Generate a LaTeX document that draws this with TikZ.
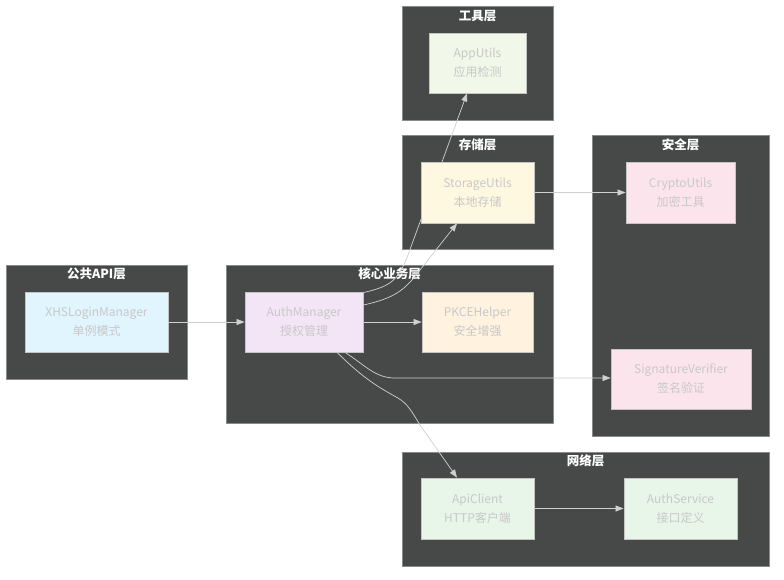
\documentclass[tikz,border=0pt]{standalone}
\usepackage{fontspec}
\setmainfont{Noto Sans CJK SC}
\usetikzlibrary{arrows.meta,calc}
\definecolor{clfill}{HTML}{474948}
\definecolor{cldraw}{HTML}{8A8A8A}
\definecolor{edgec}{HTML}{D0D0D0}
\definecolor{ntext}{HTML}{C8C8C8}
\definecolor{nborder}{HTML}{C4C4C4}
\definecolor{cblue}{HTML}{E1F5FE}
\definecolor{cpurple}{HTML}{F3E5F5}
\definecolor{corange}{HTML}{FFF3E0}
\definecolor{clime}{HTML}{F1F8E9}
\definecolor{cyellow}{HTML}{FFF8E1}
\definecolor{cpink}{HTML}{FCE4EC}
\definecolor{cgreen}{HTML}{E8F5E9}
\pgfdeclarelayer{bg}
\pgfdeclarelayer{edges}
\pgfsetlayers{bg,edges,main}
\tikzset{
  cluster/.style={draw=cldraw,fill=clfill,line width=0.8pt},
  cltitle/.style={text=white,font=\fontsize{12.5}{14}\selectfont\bfseries,inner sep=0pt,anchor=center},
  comp/.style={draw=nborder,line width=0.8pt,text=ntext,font=\fontsize{12}{19}\selectfont,align=center,inner sep=0pt,minimum height=60pt},
  link/.style={draw=edgec,line width=0.7pt,-{Triangle[length=8pt,width=6pt]}}
}
\begin{document}
\begin{tikzpicture}[x=1pt,y=-1pt]
\useasboundingbox (0,0) rectangle (784,579);
% nodes
\node[comp,fill=cblue,minimum width=143pt] (xhs) at (96.5,322) {XHSLoginManager\\单例模式};
\node[comp,fill=cpurple,minimum width=118pt] (auth) at (304,322) {AuthManager\\授权管理};
\node[comp,fill=corange,minimum width=111pt] (pkce) at (477.5,322) {PKCEHelper\\安全增强};
\node[comp,fill=clime,minimum width=97pt] (app) at (477.5,63) {AppUtils\\应用检测};
\node[comp,fill=cyellow,minimum width=113pt,minimum height=61pt] (stor) at (477.5,192.5) {StorageUtils\\本地存储};
\node[comp,fill=cpink,minimum width=109pt,minimum height=61pt] (crypto) at (680.5,192.5) {CryptoUtils\\加密工具};
\node[comp,fill=cpink,minimum width=140pt] (sig) at (681,379) {SignatureVerifier\\签名验证};
\node[comp,fill=cgreen,minimum width=113pt,minimum height=61pt] (api) at (477.5,508.5) {ApiClient\\HTTP客户端};
\node[comp,fill=cgreen,minimum width=113pt,minimum height=61pt] (svc) at (680.5,508.5) {AuthService\\接口定义};
% clusters
\begin{pgfonlayer}{bg}
\draw[cluster] (6,265) rectangle (187,379);
\node[cltitle] (tpub) at (96.5,274) {公共API层};
\draw[cluster] (226,265) rectangle (553,423);
\node[cltitle] (tcore) at (389.5,274) {核心业务层};
\draw[cluster] (402,6) rectangle (553,120);
\node[cltitle] (ttool) at (477.5,16) {工具层};
\draw[cluster] (402,135) rectangle (553,249);
\node[cltitle] (tstor) at (477.5,145) {存储层};
\draw[cluster] (592,135) rectangle (769,436);
\node[cltitle] (tsec) at (680.5,145) {安全层};
\draw[cluster] (402,452) rectangle (769,566);
\node[cltitle] (tnet) at (585.5,461) {网络层};
\end{pgfonlayer}
% edges
\begin{pgfonlayer}{edges}
\draw[link] (xhs.east) -- (auth.west);
\draw[link] (auth.east) -- (pkce.west);
\draw[link] (stor.east) -- (crypto.west);
\draw[link] (api.east) -- (svc.west);
\draw[link] ([yshift=-1pt]auth.north east) .. controls (392,286) and (398,280) .. (408,255) -- ([xshift=-10.5pt]app.south);
\draw[link] ([yshift=17pt]auth.east) .. controls (395,298) and (405,290) .. (420,270) -- ([xshift=-20.5pt]stor.south);
\draw[link] ([xshift=41pt]auth.south) .. controls (365,365) and (375,378) .. (395,378) -- ([yshift=1pt]sig.west);
\draw[link] ([xshift=33pt]auth.south) .. controls (365,380) and (380,388) .. (398,398) .. controls (408,404) and (412,412) .. (420,425) -- ([xshift=-20.5pt]api.north);
\end{pgfonlayer}
\end{tikzpicture}
\end{document}
